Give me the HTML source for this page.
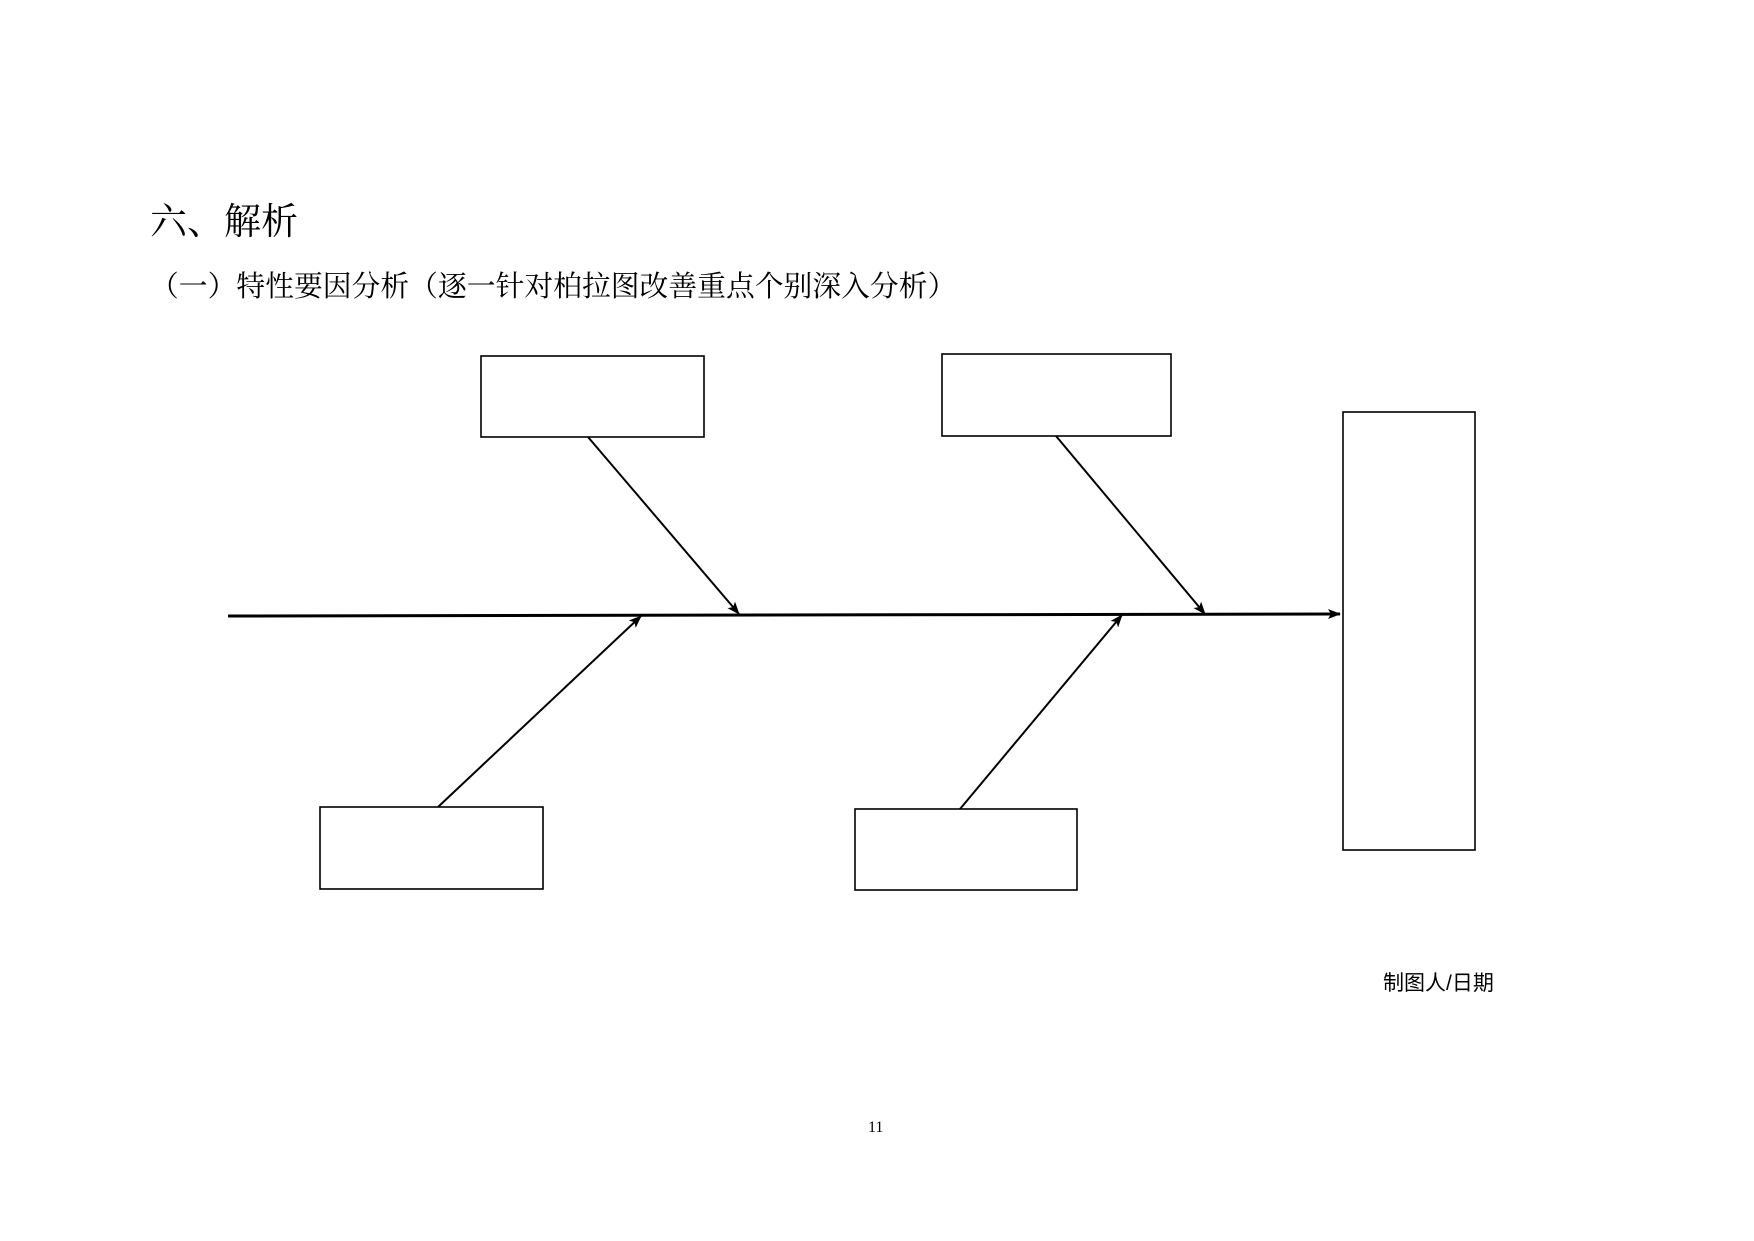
<!DOCTYPE html>
<html><head><meta charset="utf-8"><style>
html,body{margin:0;padding:0;background:#fff;}
body{width:1754px;height:1241px;position:relative;overflow:hidden;}
.t{position:absolute;white-space:nowrap;color:#000;line-height:1;}
</style></head><body>
<div class="t" style="left:150px;top:204px;font-size:37px;font-family:'Liberation Serif','Noto Serif CJK SC',serif;">六、解析</div>
<div class="t" style="left:150px;top:273px;font-size:28.8px;font-family:'Liberation Serif','Noto Serif CJK SC',serif;">（一）特性要因分析（逐一针对柏拉图改善重点个别深入分析）</div>
<div class="t" style="left:1383px;top:973px;font-size:21px;font-family:'Liberation Sans','Noto Sans CJK SC',sans-serif;">制图人/日期</div>
<div class="t" style="left:868px;top:1120px;font-size:16px;font-family:'Liberation Serif',serif;">11</div>
<svg width="1754" height="1241" style="position:absolute;left:0;top:0" xmlns="http://www.w3.org/2000/svg">
<defs><marker id="a" markerWidth="13" markerHeight="10" refX="12" refY="5" orient="auto" markerUnits="userSpaceOnUse"><path d="M0,0 L13,5 L0,10 L3,5 Z" fill="#000"/></marker></defs>
<g fill="none" stroke="#000" stroke-width="1.6">
<rect x="481" y="356" width="223" height="81"/>
<rect x="942" y="354" width="229" height="82"/>
<rect x="1343" y="412" width="132" height="438"/>
<rect x="320" y="807" width="223" height="82"/>
<rect x="855" y="809" width="222" height="81"/>
</g>
<g fill="none" stroke="#000" stroke-width="2">
<line x1="228" y1="616" x2="1340" y2="614" stroke-width="3" marker-end="url(#a)"/>
<line x1="588" y1="437" x2="739" y2="614" marker-end="url(#a)"/>
<line x1="1056" y1="436" x2="1205" y2="614" marker-end="url(#a)"/>
<line x1="438" y1="807" x2="641" y2="616" marker-end="url(#a)"/>
<line x1="960" y1="809" x2="1122" y2="615" marker-end="url(#a)"/>
</g>
</svg>
</body></html>
